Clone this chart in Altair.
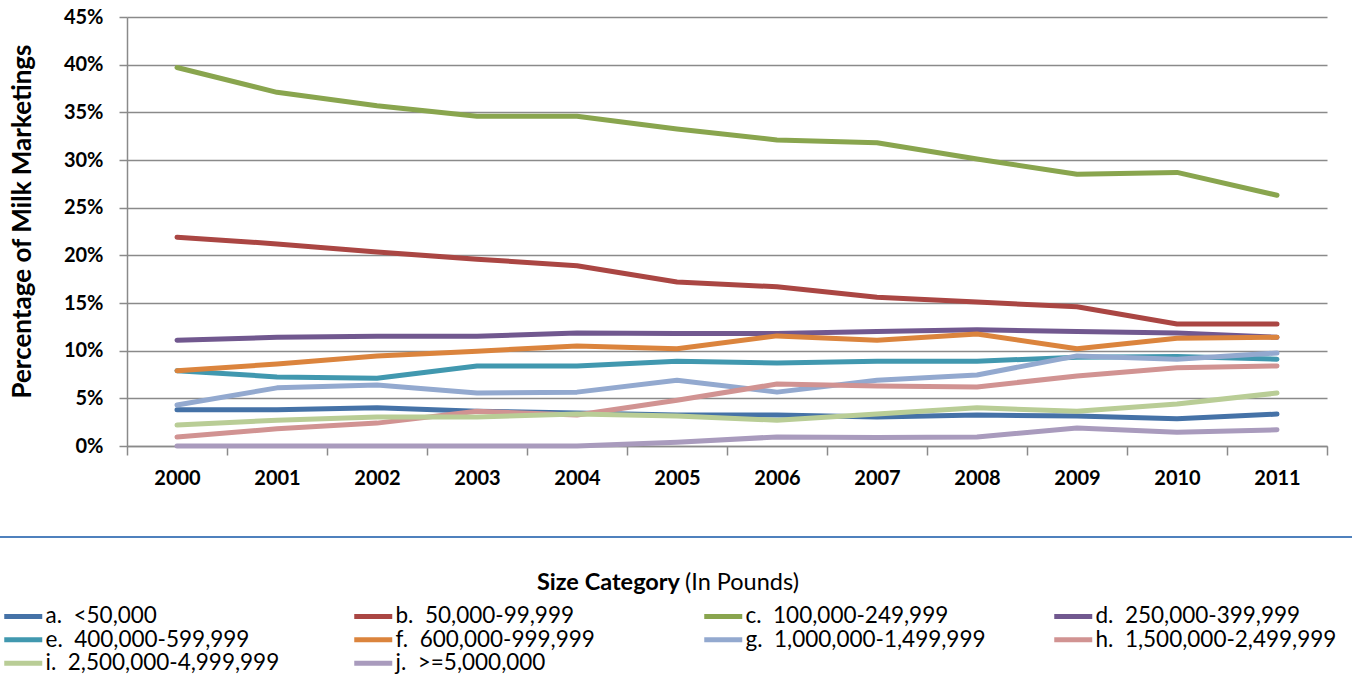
import altair as alt
import pandas as pd

years = [str(y) for y in range(2000, 2012)]

categories = [
    "a.\u00a0 <50,000",
    "b.\u00a0 50,000-99,999",
    "c.\u00a0 100,000-249,999",
    "d.\u00a0 250,000-399,999",
    "e.\u00a0 400,000-599,999",
    "f.\u00a0 600,000-999,999",
    "g.\u00a0 1,000,000-1,499,999",
    "h.\u00a0 1,500,000-2,499,999",
    "i.\u00a0 2,500,000-4,999,999",
    "j.\u00a0 >=5,000,000",
]

colors = [
    "#4572A7", "#AA4643", "#89A54E", "#71588F", "#4198AF",
    "#DB843D", "#93A9CF", "#D19392", "#B9CD96", "#A99BBD",
]

# share of milk marketings, percent
a_vals = [3.8, 3.8, 4.0, 3.65, 3.45, 3.25, 3.25, 3.05, 3.25, 3.15, 2.85, 3.35]
b_vals = [21.9, 21.2, 20.35, 19.6, 18.9, 17.2, 16.7, 15.6, 15.1, 14.6, 12.8, 12.8]
c_vals = [39.7, 37.1, 35.7, 34.6, 34.6, 33.25, 32.1, 31.8, 30.1, 28.5, 28.7, 26.3]
d_vals = [11.1, 11.4, 11.5, 11.5, 11.85, 11.8, 11.8, 12.0, 12.2, 12.0, 11.85, 11.4]
e_vals = [7.9, 7.25, 7.1, 8.4, 8.4, 8.9, 8.7, 8.9, 8.9, 9.3, 9.4, 9.1]
f_vals = [7.9, 8.6, 9.45, 9.95, 10.5, 10.2, 11.55, 11.1, 11.75, 10.2, 11.3, 11.4]
g_vals = [4.3, 6.1, 6.4, 5.55, 5.65, 6.9, 5.65, 6.9, 7.45, 9.45, 9.1, 9.75]
h_vals = [0.95, 1.8, 2.4, 3.65, 3.25, 4.8, 6.5, 6.3, 6.2, 7.35, 8.2, 8.4]
i_vals = [2.2, 2.7, 3.05, 3.05, 3.35, 3.15, 2.7, 3.35, 4.0, 3.65, 4.4, 5.55]
j_vals = [0.0, 0.0, 0.0, 0.0, 0.0, 0.4, 0.95, 0.9, 0.95, 1.9, 1.45, 1.7]

series = [a_vals, b_vals, c_vals, d_vals, e_vals, f_vals, g_vals, h_vals, i_vals, j_vals]

y_ticks = [0, 0.05, 0.10, 0.15, 0.20, 0.25, 0.30, 0.35, 0.40, 0.45]

rows = []
for cat, vals in zip(categories, series):
    for yr, v in zip(years, vals):
        rows.append({"year": yr, "category": cat, "share": v / 100})
df = pd.DataFrame(rows)

FONT = "Lato"
GRID = "#8a8a8a"

lines = alt.Chart(df).mark_line(
    strokeWidth=5, strokeCap="round", strokeJoin="round"
).encode(
    x=alt.X(
        "year:O",
        bandPosition=0.5,
        scale=alt.Scale(type="band", paddingInner=0, paddingOuter=0),
        axis=alt.Axis(
            title=None, labelAngle=0, tickBand="extent", tickSize=9,
            tickColor=GRID, tickWidth=1.5, domainColor=GRID, domainWidth=1.5,
            labelFont=FONT, labelFontSize=20, labelFontWeight="bold",
            labelColor="#000000", labelBaseline="alphabetic", labelPadding=29,
            grid=False,
        ),
    ),
    y=alt.Y(
        "share:Q",
        scale=alt.Scale(domain=[0, 0.45], nice=False),
        axis=alt.Axis(
            values=y_ticks, format=".0%", tickSize=8, tickColor=GRID,
            tickWidth=1.5, domainColor=GRID, domainWidth=1.5,
            gridColor=GRID, gridWidth=1.5,
            labelFont=FONT, labelFontSize=20, labelFontWeight="bold",
            labelColor="#000000", labelPadding=16,
            title="Percentage of Milk Marketings", titleFont=FONT,
            titleFontSize=26, titleFontWeight="bold", titleColor="#000000",
            titleAngle=270, titleAlign="center", titleBaseline="middle",
            titleX=-105, titleY=204,
        ),
    ),
    color=alt.Color(
        "category:N",
        scale=alt.Scale(domain=categories, range=colors),
        legend=alt.Legend(
            orient="none", legendX=-115, legendY=588, columns=4,
            direction="horizontal",
            title=None, symbolType="M-3.8,0H3.8", symbolSize=100,
            symbolStrokeWidth=5, labelFont=FONT, labelFontSize=22.5,
            labelColor="#000000", labelOffset=11, columnPadding=57,
            rowPadding=0.5, gridAlign="all", labelLimit=400,
        ),
    ),
)

# separator between the plot and the legend
sep = alt.Chart(pd.DataFrame({"k": [0]})).mark_rule(
    color="#4F81BD", strokeWidth=2
).encode(x=alt.value(-127), x2=alt.value(1225), y=alt.value(520))

legend_head = pd.DataFrame({"part": ["Size Category"]})
legend_sub = pd.DataFrame({"part": ["(In Pounds)"]})

head = alt.Chart(legend_head).mark_text(
    font=FONT, fontSize=23.5, fontWeight="bold", align="right",
    baseline="middle", color="#000000"
).encode(x=alt.value(553), y=alt.value(566), text="part:N")

sub = alt.Chart(legend_sub).mark_text(
    font=FONT, fontSize=23.5, align="left", baseline="middle", color="#000000"
).encode(x=alt.value(558), y=alt.value(566), text="part:N")

chart = alt.layer(lines, sep, head, sub).properties(
    width=1200,
    height=429,
    autosize=alt.AutoSizeParams(type="none"),
    padding={"left": 127, "top": 17, "right": 34, "bottom": 239},
).configure_view(strokeWidth=0)

chart.save("out.html", embed_options={"renderer": "svg", "actions": False})
